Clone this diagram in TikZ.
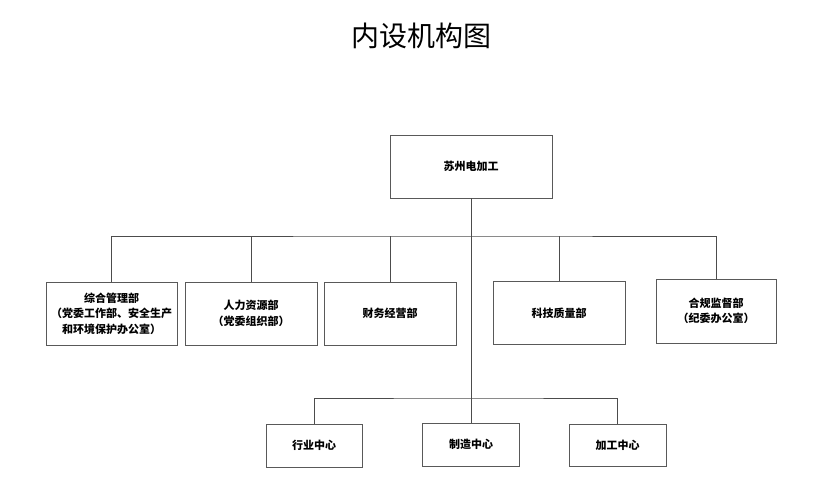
\documentclass[tikz,border=0pt]{standalone}
\usepackage{fontspec}
\setmainfont{Noto Sans CJK SC}
\begin{document}
\begin{tikzpicture}[x=1pt, y=-1pt,
	dept/.style={draw=black!65, line width=0.8pt, align=center, inner sep=0pt, minimum height=63pt, font=\bfseries\fontsize{11}{15.5}\selectfont},
	link/.style={draw=black!70, line width=0.7pt}]
	    \useasboundingbox (0,0) rectangle (833,497);
	    \node (title) at (421,36) {\fontsize{28}{30}\selectfont 内设机构图};
	    \node[dept, minimum width=162pt] (top) at (471,166.5) {苏州电加工};
	    \node[dept, minimum width=131pt] (d1) at (111.5,313.5) {综合管理部\\（党委工作部、安全生产\\和环境保护办公室）};
	    \node[dept, minimum width=132pt] (d2) at (251,313.5) {人力资源部\\（党委组织部）};
	    \node[dept, minimum width=132pt] (d3) at (390,313.5) {财务经营部};
	    \node[dept, minimum width=132pt] (d4) at (559,313) {科技质量部};
	    \node[dept, minimum width=120pt, minimum height=64pt] (d5) at (716,311) {合规监督部\\（纪委办公室）};
	    \node[dept, minimum width=96pt, minimum height=43pt] (c1) at (314,445.5) {行业中心};
	    \node[dept, minimum width=97pt, minimum height=43pt] (c2) at (471,444.5) {制造中心};
	    \node[dept, minimum width=97pt, minimum height=42pt] (c3) at (617.5,445) {加工中心};
	    \coordinate (bus) at (471,236);
	    \coordinate (sub) at (471,398);
	    \draw[link] (top.south) -- (c2.north);
	    \draw[link] (d1.north) |- (bus) -| (d5.north);
	    \draw[link] (d2.north) -- (d2.north |- bus);
	    \draw[link] (d3.north) -- (d3.north |- bus);
	    \draw[link] (d4.north) -- (d4.north |- bus);
	    \draw[link] (c1.north) |- (sub) -| (c3.north);
	\end{tikzpicture}
\end{document}
